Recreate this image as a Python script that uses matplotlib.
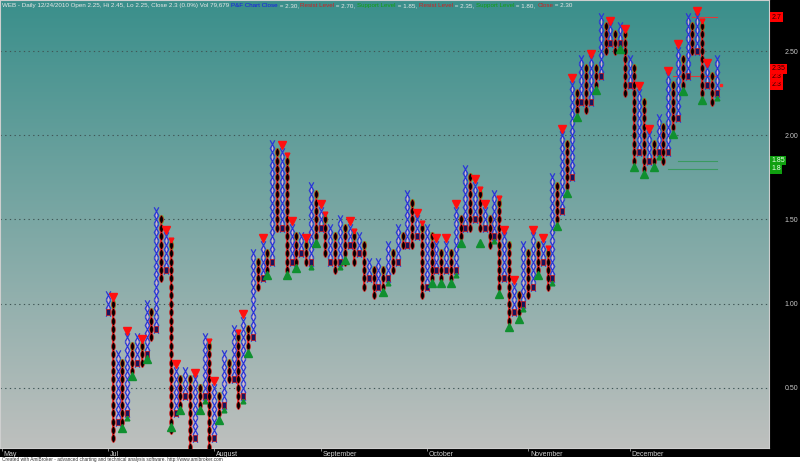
import numpy as np
import matplotlib
matplotlib.use("Agg")
import matplotlib.pyplot as plt
from matplotlib.path import Path
from matplotlib.transforms import Affine2D, ScaledTranslation, blended_transform_factory
from matplotlib.patches import Rectangle

BOX = 0.05
# one column per bar, odd = X column, even = O column
col_low = [0.95, 0.20, 0.30, 0.30, 0.35, 0.60, 0.65, 0.65, 0.70, 0.80,
           0.85, 1.15, 1.20, 0.25, 0.35, 0.40, 0.45, 0.15, 0.20, 0.40,
           0.45, 0.15, 0.20, 0.35, 0.40, 0.55, 0.55, 0.40, 0.45, 0.75,
           0.80, 1.10, 1.15, 1.20, 1.25, 1.45, 1.45, 1.20, 1.25, 1.25,
           1.30, 1.25, 1.25, 1.40, 1.45, 1.30, 1.25, 1.20, 1.25, 1.25,
           1.35, 1.25, 1.30, 1.10, 1.15, 1.05, 1.10, 1.10, 1.15, 1.20,
           1.25, 1.35, 1.35, 1.35, 1.40, 1.05, 1.10, 1.15, 1.20, 1.15,
           1.20, 1.15, 1.20, 1.40, 1.45, 1.45, 1.50, 1.45, 1.45, 1.35,
           1.40, 1.10, 1.15, 0.90, 0.95, 0.95, 1.00, 1.05, 1.10, 1.20,
           1.25, 1.10, 1.15, 1.50, 1.55, 1.70, 1.75, 2.15, 2.20, 2.15,
           2.20, 2.30, 2.35, 2.50, 2.55, 2.50, 2.55, 2.25, 2.30, 1.85,
           1.90, 1.80, 1.85, 1.85, 1.90, 1.85, 1.90, 2.05, 2.10, 2.30,
           2.35, 2.50, 2.50, 2.25, 2.30, 2.20, 2.25]
col_high = [1.05, 1.00, 0.70, 0.65, 0.80, 0.75, 0.80, 0.75, 1.00, 0.95,
            1.55, 1.50, 1.40, 1.35, 0.60, 0.55, 0.60, 0.55, 0.55, 0.50,
            0.80, 0.75, 0.50, 0.45, 0.70, 0.65, 0.85, 0.80, 0.90, 0.85,
            1.30, 1.25, 1.35, 1.30, 1.95, 1.90, 1.90, 1.85, 1.45, 1.40,
            1.40, 1.35, 1.70, 1.65, 1.55, 1.50, 1.45, 1.40, 1.50, 1.45,
            1.45, 1.40, 1.40, 1.35, 1.25, 1.20, 1.25, 1.20, 1.35, 1.30,
            1.45, 1.40, 1.65, 1.60, 1.50, 1.45, 1.45, 1.40, 1.35, 1.30,
            1.35, 1.30, 1.55, 1.50, 1.80, 1.75, 1.70, 1.65, 1.55, 1.50,
            1.65, 1.60, 1.40, 1.35, 1.10, 1.05, 1.35, 1.30, 1.40, 1.35,
            1.35, 1.30, 1.75, 1.70, 2.00, 1.95, 2.30, 2.25, 2.45, 2.40,
            2.45, 2.40, 2.70, 2.65, 2.65, 2.60, 2.65, 2.60, 2.45, 2.40,
            2.25, 2.20, 2.00, 1.95, 2.10, 2.05, 2.35, 2.30, 2.50, 2.45,
            2.70, 2.65, 2.70, 2.65, 2.40, 2.35, 2.45]

# resistance (red, pointing down) and support (green, pointing up) markers
res_cols = [2, 5, 8, 13, 15, 19, 23, 29, 33, 37, 39, 42, 45, 51, 65, 69, 71, 73,
            77, 79, 83, 85, 89, 91, 95, 97, 101, 105, 108, 111, 113, 117, 119, 123, 125]
res_vals = [1.04, 0.84, 0.79, 1.44, 0.64, 0.59, 0.54, 0.94, 1.39, 1.94, 1.49, 1.39,
            1.59, 1.49, 1.54, 1.39, 1.39, 1.59, 1.74, 1.59, 1.44, 1.14, 1.44, 1.39,
            2.04, 2.34, 2.48, 2.68, 2.63, 2.29, 2.04, 2.38, 2.54, 2.74, 2.43]
res_small_cols = [14, 22, 28, 38, 46, 52, 66, 78, 82, 92, 124]
res_small_vals = [1.38, 0.78, 0.83, 1.88, 1.53, 1.43, 1.48, 1.68, 1.63, 1.33, 2.68]

sup_cols = [4, 6, 9, 14, 16, 20, 24, 30, 34, 38, 40, 44, 50, 58, 68, 70, 72, 74,
            78, 82, 84, 86, 90, 94, 96, 98, 102, 107, 110, 112, 114, 118, 120, 124]
sup_vals = [0.26, 0.57, 0.67, 0.27, 0.37, 0.37, 0.31, 0.71, 1.17, 1.17, 1.21, 1.36,
            1.26, 1.07, 1.12, 1.12, 1.12, 1.36, 1.36, 1.06, 0.86, 0.91, 1.17, 1.46,
            1.66, 2.11, 2.27, 2.51, 1.81, 1.77, 1.81, 2.01, 2.26, 2.21]
sup_small_cols = [5, 21, 25, 29, 43, 49, 59, 73, 81, 87, 93, 115, 127]
sup_small_vals = [0.32, 0.42, 0.37, 0.42, 1.22, 1.22, 1.12, 1.17, 1.37, 0.97, 1.12, 1.87, 2.22]

# current levels
resist_levels = [2.70, 2.35]
resist_from = [122, 118]
support_levels = [1.85, 1.80]
support_from = [119, 117]
last_close = 2.30
close_col = 128

months = ["May", "Jul", "August", "September", "October", "November", "December"]
month_cols = [-21, 1, 23, 45, 67, 88, 109]

y_ticks = [0.5, 1.0, 1.5, 2.0, 2.5]

title_parts = [
    ("WEB - Daily 12/24/2010 Open 2.25, Hi 2.45, Lo 2.25, Close 2.3 (0.0%) Vol 79,679 ", "#e8e8e8"),
    ("P&F Chart Close", "#1818e8"), (" = 2.30, ", "#e8e8e8"),
    ("Resist Level", "#d02020"), (" = 2.70, ", "#e8e8e8"),
    ("Support Level", "#10a010"), (" = 1.85, ", "#e8e8e8"),
    ("Resist Level", "#d02020"), (" = 2.35, ", "#e8e8e8"),
    ("Support Level", "#10a010"), (" = 1.80, ", "#e8e8e8"),
    ("Close", "#d02020"), (" = 2.30", "#e8e8e8"),
]

# ---- figure ----
W, H = 800, 463
plt.rcParams["font.family"] = ["Liberation Sans", "DejaVu Sans"]
fig = plt.figure(figsize=(W / 100, H / 100), dpi=100, facecolor="black")
ax = fig.add_axes([0, (H - 448) / H, 769 / W, 448 / H])

x_lo, x_hi = -21.36, 137.85
y_lo, y_hi = 0.143, 2.803
ax.set_xlim(x_lo, x_hi)
ax.set_ylim(y_lo, y_hi)

# teal -> grey gradient background
top = np.array([58, 143, 139]) / 255
bot = np.array([190, 192, 190]) / 255
t = np.linspace(0, 1, 256)[:, None, None]
grad = top * (1 - t) + bot * t
ax.imshow(grad, extent=[x_lo, x_hi, y_lo, y_hi], aspect="auto", zorder=0, origin="upper")

ax.set_yticks(y_ticks)
ax.grid(axis="y", color="#3f5656", linestyle=(0, (1.2, 3)), linewidth=0.8)
ax.grid(axis="x", visible=False)

# marker shapes
x_mark = Path([(-0.28, -0.5), (0.28, 0.5), (-0.28, 0.5), (0.28, -0.5)],
              [Path.MOVETO, Path.LINETO, Path.MOVETO, Path.LINETO])
o_mark = Path.unit_circle().transformed(Affine2D().scale(0.46, 1.0))
box_mark = Path.unit_rectangle().transformed(Affine2D().translate(-0.5, -0.5).scale(0.55, 1.0))

for i, (lo, hi) in enumerate(zip(col_low, col_high)):
    c = i + 1
    boxes = np.round(np.arange(lo, hi + BOX / 2, BOX), 2)
    xs = np.full(len(boxes), c)
    if c % 2 == 1:
        ax.plot([c, c], [lo, hi], color="#d8a8d8", lw=0.8, zorder=2)
        ax.plot(xs, boxes, ls="none", marker=x_mark, ms=6.0, mec="#2a36d8",
                mew=0.9, mfc="none", zorder=3)
        ax.plot([c], [lo], ls="none", marker=box_mark, ms=4.9, mfc="#16165e",
                mec="#d01818", mew=0.5, zorder=4)
    else:
        ax.plot([c, c], [lo, hi], color="#ff2020", lw=1.1, zorder=2)
        ax.plot([c], [hi], ls="none", marker=box_mark, ms=5.5, mfc="#30e030",
                mec="none", zorder=3)
        ax.plot(xs, boxes, ls="none", marker=o_mark, ms=5.6, mfc="black",
                mec="#e01818", mew=0.5, zorder=4)

# resistance / support triangles
ax.plot(res_cols, res_vals, ls="none", marker="v", ms=5.3, color="#ff1010", zorder=5)
ax.plot(res_small_cols, res_small_vals, ls="none", marker="v", ms=3.4, color="#ff1010", zorder=5)
ax.plot(sup_cols, sup_vals, ls="none", marker="^", ms=5.3, color="#109030", zorder=5)
ax.plot(sup_small_cols, sup_small_vals, ls="none", marker="^", ms=3.4, color="#109030", zorder=5)

# level lines
last_col = len(col_low)
for lvl, start in zip(resist_levels, resist_from):
    ax.plot([start, last_col], [lvl, lvl], color="#e03838", lw=0.8, zorder=2)
for lvl, start in zip(support_levels, support_from):
    ax.plot([start, last_col], [lvl, lvl], color="#3a9a60", lw=0.8, zorder=2)
ax.plot([close_col], [last_close], ls="none", marker="s", ms=1.4, color="#ff2020", zorder=5)

# right axis
ax.yaxis.tick_right()
ax.set_yticklabels([f"{v:.2f}" for v in y_ticks])
ax.tick_params(axis="y", length=0, pad=20.9, labelcolor="#c8c8c8", labelsize=5)
for lbl in ax.get_yticklabels():
    lbl.set_horizontalalignment("right")

# month axis
ax.set_xticks(month_cols)
ax.set_xticklabels(months)
ax.tick_params(axis="x", direction="out", length=1.8, width=0.6, color="#a0a0a0",
               pad=0.2, labelcolor="#d0d0d0", labelsize=5)
shift = ScaledTranslation(2 / 100, 0, fig.dpi_scale_trans)
for lbl in ax.get_xticklabels():
    lbl.set_horizontalalignment("left")
    lbl.set_transform(lbl.get_transform() + shift)

for sp in ax.spines.values():
    sp.set_color("#cfcfcf")
    sp.set_linewidth(0.8)

# highlighted value labels on the right scale, pushed apart when they overlap
gap = (y_hi - y_lo) * 8.0 / 448
lab_tr = blended_transform_factory(ax.transAxes, ax.transData)
red_labels = [last_close, last_close, resist_levels[1], resist_levels[0]]
red_text = ["2.3", "2.3", "2.35", "2.7"]
prev = -1
for v, s in sorted(zip(red_labels, red_text)):
    pos = max(v, prev + gap)
    prev = pos
    ax.text(1.003, pos, s, transform=lab_tr, ha="left", va="center", fontsize=5,
            color="#300000", clip_on=False,
            bbox=dict(boxstyle="square,pad=0.2", fc="#ff0000", ec="none"))
for v in support_levels:
    ax.text(1.003, v, f"{v:g}", transform=lab_tr, ha="left", va="center", fontsize=5,
            color="#e8ffe8", clip_on=False,
            bbox=dict(boxstyle="square,pad=0.2", fc="#10a010", ec="none"))

# title line, piece by piece
renderer = fig.canvas.get_renderer()
x_px = 2
for txt, col in title_parts:
    tt = fig.text(x_px / W, 1 - 5.5 / H, txt, color=col, fontsize=4.5, ha="left", va="center")
    x_px = tt.get_window_extent(renderer).x1

# white credit strip at the bottom
fig.patches.append(Rectangle((0, 0), 1, 6.3 / H, transform=fig.transFigure,
                             facecolor="white", edgecolor="none", zorder=-1))
fig.text(2 / W, 3.0 / H, "Created with AmiBroker - advanced charting and technical analysis software. http://www.amibroker.com",
         fontsize=3.4, color="#303030", ha="left", va="center")

fig.savefig("out.png", dpi=100, facecolor=fig.get_facecolor())
